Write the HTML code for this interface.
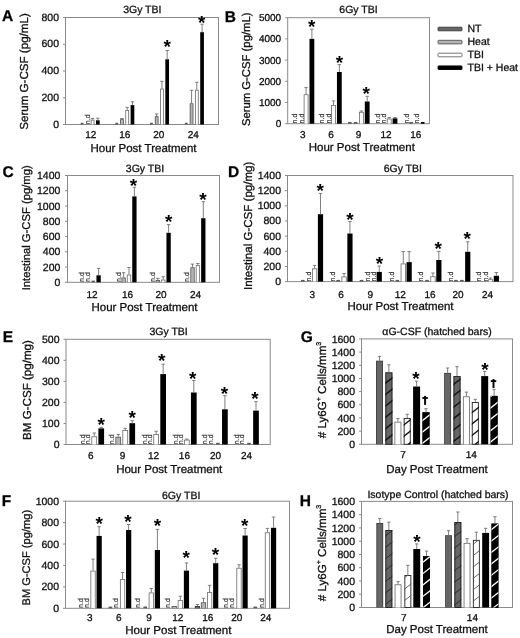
<!DOCTYPE html>
<html><head><meta charset="utf-8"><style>
html,body{margin:0;padding:0;background:#fff;}
body{width:520px;height:638px;overflow:hidden;}
svg{display:block;font-family:"Liberation Sans", sans-serif;}
svg{filter:grayscale(1) blur(0.3px);}
text{stroke:#111;stroke-width:0.3px;text-rendering:geometricPrecision;}
body{-webkit-font-smoothing:antialiased;}
</style></head><body>
<svg width="520" height="638" viewBox="0 0 520 638">
<rect width="520" height="638" fill="#fff"/>
<rect x="65.5" y="17.5" width="153.0" height="107.0" fill="none" stroke="#8a8a8a" stroke-width="1"/>
<line x1="63.00" y1="124.50" x2="65.50" y2="124.50" stroke="#8a8a8a" stroke-width="1"/>
<text x="59.00" y="124.50" font-size="10.5" text-anchor="end" dominant-baseline="central" font-weight="normal" fill="#111111">0</text>
<line x1="63.00" y1="97.75" x2="65.50" y2="97.75" stroke="#8a8a8a" stroke-width="1"/>
<text x="59.00" y="97.75" font-size="10.5" text-anchor="end" dominant-baseline="central" font-weight="normal" fill="#111111">200</text>
<line x1="63.00" y1="71.00" x2="65.50" y2="71.00" stroke="#8a8a8a" stroke-width="1"/>
<text x="59.00" y="71.00" font-size="10.5" text-anchor="end" dominant-baseline="central" font-weight="normal" fill="#111111">400</text>
<line x1="63.00" y1="44.25" x2="65.50" y2="44.25" stroke="#8a8a8a" stroke-width="1"/>
<text x="59.00" y="44.25" font-size="10.5" text-anchor="end" dominant-baseline="central" font-weight="normal" fill="#111111">600</text>
<line x1="63.00" y1="17.50" x2="65.50" y2="17.50" stroke="#8a8a8a" stroke-width="1"/>
<text x="59.00" y="17.50" font-size="10.5" text-anchor="end" dominant-baseline="central" font-weight="normal" fill="#111111">800</text>
<text x="90.80" y="135.30" font-size="10.0" text-anchor="middle" dominant-baseline="central" font-weight="normal" fill="#111111">12</text>
<text x="124.80" y="135.30" font-size="10.0" text-anchor="middle" dominant-baseline="central" font-weight="normal" fill="#111111">16</text>
<text x="158.80" y="135.30" font-size="10.0" text-anchor="middle" dominant-baseline="central" font-weight="normal" fill="#111111">20</text>
<text x="193.30" y="135.30" font-size="10.0" text-anchor="middle" dominant-baseline="central" font-weight="normal" fill="#111111">24</text>
<text x="143.50" y="148.80" font-size="11.5" text-anchor="middle" dominant-baseline="central" font-weight="normal" fill="#111111">Hour Post Treatment</text>
<text x="24.70" y="71.50" font-size="11.6" text-anchor="middle" dominant-baseline="central" font-weight="normal" fill="#111111" transform="rotate(-90 24.7 71.5)">Serum G-CSF (pg/mL)</text>
<text x="142.30" y="10.30" font-size="10.5" text-anchor="middle" dominant-baseline="central" font-weight="normal" fill="#111111">3Gy TBI</text>
<text x="1.91" y="20.60" font-size="15.5" font-weight="bold" fill="#000">A</text>
<rect x="80.69" y="122.80" width="2.78" height="1.70" fill="#5a5a5a"/>
<text x="90.46" y="124.30" font-size="7.2" text-anchor="start" fill="#333" style="stroke:#333;stroke-width:0.15px" transform="rotate(-90 90.46 124.30)">n.d</text>
<rect x="90.73" y="119.70" width="3.70" height="4.80" fill="#6a6a6a"/>
<rect x="91.53" y="120.50" width="2.10" height="4.00" fill="#ffffff"/>
<line x1="92.58" y1="119.70" x2="92.58" y2="118.50" stroke="#727272" stroke-width="0.9"/>
<line x1="90.88" y1="118.50" x2="94.28" y2="118.50" stroke="#727272" stroke-width="0.9"/>
<rect x="95.98" y="120.30" width="3.70" height="4.20" fill="#000000"/>
<line x1="97.83" y1="120.30" x2="97.83" y2="118.20" stroke="#727272" stroke-width="0.9"/>
<line x1="96.12" y1="118.20" x2="99.53" y2="118.20" stroke="#727272" stroke-width="0.9"/>
<rect x="115.34" y="122.80" width="2.78" height="1.70" fill="#5a5a5a"/>
<rect x="120.12" y="119.20" width="3.70" height="5.30" fill="#555555"/>
<rect x="120.92" y="120.00" width="2.10" height="4.50" fill="#b4b4b4"/>
<line x1="121.97" y1="119.20" x2="121.97" y2="118.50" stroke="#727272" stroke-width="0.9"/>
<line x1="120.27" y1="118.50" x2="123.67" y2="118.50" stroke="#727272" stroke-width="0.9"/>
<rect x="125.38" y="110.00" width="3.70" height="14.50" fill="#6a6a6a"/>
<rect x="126.17" y="110.80" width="2.10" height="13.70" fill="#ffffff"/>
<line x1="127.22" y1="110.00" x2="127.22" y2="107.40" stroke="#727272" stroke-width="0.9"/>
<line x1="125.52" y1="107.40" x2="128.92" y2="107.40" stroke="#727272" stroke-width="0.9"/>
<rect x="130.62" y="105.10" width="3.70" height="19.40" fill="#000000"/>
<line x1="132.47" y1="105.10" x2="132.47" y2="101.80" stroke="#727272" stroke-width="0.9"/>
<line x1="130.78" y1="101.80" x2="134.17" y2="101.80" stroke="#727272" stroke-width="0.9"/>
<rect x="150.04" y="122.80" width="2.78" height="1.70" fill="#5a5a5a"/>
<rect x="154.83" y="116.20" width="3.70" height="8.30" fill="#555555"/>
<rect x="155.63" y="117.00" width="2.10" height="7.50" fill="#b4b4b4"/>
<line x1="156.68" y1="116.20" x2="156.68" y2="114.00" stroke="#727272" stroke-width="0.9"/>
<line x1="154.98" y1="114.00" x2="158.38" y2="114.00" stroke="#727272" stroke-width="0.9"/>
<rect x="160.08" y="88.60" width="3.70" height="35.90" fill="#6a6a6a"/>
<rect x="160.88" y="89.40" width="2.10" height="35.10" fill="#ffffff"/>
<line x1="161.93" y1="88.60" x2="161.93" y2="81.30" stroke="#727272" stroke-width="0.9"/>
<line x1="160.23" y1="81.30" x2="163.62" y2="81.30" stroke="#727272" stroke-width="0.9"/>
<rect x="165.33" y="59.30" width="3.70" height="65.20" fill="#000000"/>
<line x1="167.18" y1="59.30" x2="167.18" y2="50.50" stroke="#727272" stroke-width="0.9"/>
<line x1="165.48" y1="50.50" x2="168.88" y2="50.50" stroke="#727272" stroke-width="0.9"/>
<rect x="184.94" y="122.80" width="2.78" height="1.70" fill="#5a5a5a"/>
<rect x="189.72" y="103.30" width="3.70" height="21.20" fill="#555555"/>
<rect x="190.53" y="104.10" width="2.10" height="20.40" fill="#b4b4b4"/>
<line x1="191.57" y1="103.30" x2="191.57" y2="90.30" stroke="#727272" stroke-width="0.9"/>
<line x1="189.88" y1="90.30" x2="193.27" y2="90.30" stroke="#727272" stroke-width="0.9"/>
<rect x="194.97" y="89.70" width="3.70" height="34.80" fill="#6a6a6a"/>
<rect x="195.78" y="90.50" width="2.10" height="34.00" fill="#ffffff"/>
<line x1="196.82" y1="89.70" x2="196.82" y2="82.30" stroke="#727272" stroke-width="0.9"/>
<line x1="195.12" y1="82.30" x2="198.52" y2="82.30" stroke="#727272" stroke-width="0.9"/>
<rect x="200.22" y="32.20" width="3.70" height="92.30" fill="#000000"/>
<line x1="202.07" y1="32.20" x2="202.07" y2="24.20" stroke="#727272" stroke-width="0.9"/>
<line x1="200.38" y1="24.20" x2="203.77" y2="24.20" stroke="#727272" stroke-width="0.9"/>
<text x="167.30" y="52.64" font-size="19.0" text-anchor="middle" font-weight="bold" fill="#000" style="stroke:none">*</text>
<text x="201.60" y="29.04" font-size="19.0" text-anchor="middle" font-weight="bold" fill="#000" style="stroke:none">*</text>
<rect x="287.7" y="17.7" width="141.8" height="106.0" fill="none" stroke="#8a8a8a" stroke-width="1"/>
<line x1="285.20" y1="123.70" x2="287.70" y2="123.70" stroke="#8a8a8a" stroke-width="1"/>
<text x="281.20" y="124.60" font-size="10" text-anchor="end" dominant-baseline="central" font-weight="normal" fill="#111111">0</text>
<line x1="285.20" y1="102.50" x2="287.70" y2="102.50" stroke="#8a8a8a" stroke-width="1"/>
<text x="281.20" y="103.40" font-size="10" text-anchor="end" dominant-baseline="central" font-weight="normal" fill="#111111">1000</text>
<line x1="285.20" y1="81.30" x2="287.70" y2="81.30" stroke="#8a8a8a" stroke-width="1"/>
<text x="281.20" y="82.20" font-size="10" text-anchor="end" dominant-baseline="central" font-weight="normal" fill="#111111">2000</text>
<line x1="285.20" y1="60.10" x2="287.70" y2="60.10" stroke="#8a8a8a" stroke-width="1"/>
<text x="281.20" y="61.00" font-size="10" text-anchor="end" dominant-baseline="central" font-weight="normal" fill="#111111">3000</text>
<line x1="285.20" y1="38.90" x2="287.70" y2="38.90" stroke="#8a8a8a" stroke-width="1"/>
<text x="281.20" y="39.80" font-size="10" text-anchor="end" dominant-baseline="central" font-weight="normal" fill="#111111">4000</text>
<line x1="285.20" y1="17.70" x2="287.70" y2="17.70" stroke="#8a8a8a" stroke-width="1"/>
<text x="281.20" y="18.60" font-size="10" text-anchor="end" dominant-baseline="central" font-weight="normal" fill="#111111">5000</text>
<text x="302.90" y="135.40" font-size="10.0" text-anchor="middle" dominant-baseline="central" font-weight="normal" fill="#111111">3</text>
<text x="331.10" y="135.40" font-size="10.0" text-anchor="middle" dominant-baseline="central" font-weight="normal" fill="#111111">6</text>
<text x="358.50" y="135.40" font-size="10.0" text-anchor="middle" dominant-baseline="central" font-weight="normal" fill="#111111">9</text>
<text x="386.00" y="135.40" font-size="10.0" text-anchor="middle" dominant-baseline="central" font-weight="normal" fill="#111111">12</text>
<text x="415.70" y="135.40" font-size="10.0" text-anchor="middle" dominant-baseline="central" font-weight="normal" fill="#111111">16</text>
<text x="361.80" y="148.30" font-size="11.5" text-anchor="middle" dominant-baseline="central" font-weight="normal" fill="#111111">Hour Post Treatment</text>
<text x="247.50" y="69.30" font-size="11.3" text-anchor="middle" dominant-baseline="central" font-weight="normal" fill="#111111" transform="rotate(-90 247.5 69.3)">Serum G-CSF (pg/mL)</text>
<text x="358.50" y="10.30" font-size="10.5" text-anchor="middle" dominant-baseline="central" font-weight="normal" fill="#111111">6Gy TBI</text>
<text x="224.76" y="21.60" font-size="15.5" font-weight="bold" fill="#000">B</text>
<text x="297.26" y="123.50" font-size="7.2" text-anchor="start" fill="#333" style="stroke:#333;stroke-width:0.15px" transform="rotate(-90 297.26 123.50)">n.d</text>
<text x="303.76" y="123.50" font-size="7.2" text-anchor="start" fill="#333" style="stroke:#333;stroke-width:0.15px" transform="rotate(-90 303.76 123.50)">n.d</text>
<rect x="303.70" y="94.30" width="4.80" height="29.40" fill="#6a6a6a"/>
<rect x="304.50" y="95.10" width="3.20" height="28.60" fill="#ffffff"/>
<line x1="306.10" y1="94.30" x2="306.10" y2="87.60" stroke="#727272" stroke-width="0.9"/>
<line x1="304.40" y1="87.60" x2="307.80" y2="87.60" stroke="#727272" stroke-width="0.9"/>
<rect x="309.50" y="38.90" width="4.80" height="84.80" fill="#000000"/>
<line x1="311.90" y1="38.90" x2="311.90" y2="29.20" stroke="#727272" stroke-width="0.9"/>
<line x1="310.20" y1="29.20" x2="313.60" y2="29.20" stroke="#727272" stroke-width="0.9"/>
<text x="324.16" y="123.50" font-size="7.2" text-anchor="start" fill="#333" style="stroke:#333;stroke-width:0.15px" transform="rotate(-90 324.16 123.50)">n.d</text>
<text x="330.76" y="123.50" font-size="7.2" text-anchor="start" fill="#333" style="stroke:#333;stroke-width:0.15px" transform="rotate(-90 330.76 123.50)">n.d</text>
<rect x="331.15" y="105.00" width="4.80" height="18.70" fill="#6a6a6a"/>
<rect x="331.95" y="105.80" width="3.20" height="17.90" fill="#ffffff"/>
<line x1="333.55" y1="105.00" x2="333.55" y2="100.90" stroke="#727272" stroke-width="0.9"/>
<line x1="331.85" y1="100.90" x2="335.25" y2="100.90" stroke="#727272" stroke-width="0.9"/>
<rect x="336.95" y="72.00" width="4.80" height="51.70" fill="#000000"/>
<line x1="339.35" y1="72.00" x2="339.35" y2="64.60" stroke="#727272" stroke-width="0.9"/>
<line x1="337.65" y1="64.60" x2="341.05" y2="64.60" stroke="#727272" stroke-width="0.9"/>
<rect x="348.00" y="122.00" width="3.60" height="1.70" fill="#5a5a5a"/>
<rect x="353.80" y="122.00" width="3.60" height="1.70" fill="#5a5a5a"/>
<rect x="359.00" y="111.90" width="4.80" height="11.80" fill="#6a6a6a"/>
<rect x="359.80" y="112.70" width="3.20" height="11.00" fill="#ffffff"/>
<line x1="361.40" y1="111.90" x2="361.40" y2="111.00" stroke="#727272" stroke-width="0.9"/>
<line x1="359.70" y1="111.00" x2="363.10" y2="111.00" stroke="#727272" stroke-width="0.9"/>
<rect x="364.80" y="101.50" width="4.80" height="22.20" fill="#000000"/>
<line x1="367.20" y1="101.50" x2="367.20" y2="96.30" stroke="#727272" stroke-width="0.9"/>
<line x1="365.50" y1="96.30" x2="368.90" y2="96.30" stroke="#727272" stroke-width="0.9"/>
<text x="380.16" y="123.50" font-size="7.2" text-anchor="start" fill="#333" style="stroke:#333;stroke-width:0.15px" transform="rotate(-90 380.16 123.50)">n.d</text>
<text x="386.46" y="123.50" font-size="7.2" text-anchor="start" fill="#333" style="stroke:#333;stroke-width:0.15px" transform="rotate(-90 386.46 123.50)">n.d</text>
<rect x="386.80" y="118.60" width="4.80" height="5.10" fill="#6a6a6a"/>
<rect x="387.60" y="119.40" width="3.20" height="4.30" fill="#ffffff"/>
<line x1="389.20" y1="118.60" x2="389.20" y2="117.60" stroke="#727272" stroke-width="0.9"/>
<line x1="387.50" y1="117.60" x2="390.90" y2="117.60" stroke="#727272" stroke-width="0.9"/>
<rect x="392.60" y="118.30" width="4.80" height="5.40" fill="#000000"/>
<line x1="395.00" y1="118.30" x2="395.00" y2="117.60" stroke="#727272" stroke-width="0.9"/>
<line x1="393.30" y1="117.60" x2="396.70" y2="117.60" stroke="#727272" stroke-width="0.9"/>
<text x="408.66" y="123.50" font-size="7.2" text-anchor="start" fill="#333" style="stroke:#333;stroke-width:0.15px" transform="rotate(-90 408.66 123.50)">n.d</text>
<rect x="409.30" y="122.00" width="3.60" height="1.70" fill="#5a5a5a"/>
<text x="418.76" y="123.50" font-size="7.2" text-anchor="start" fill="#333" style="stroke:#333;stroke-width:0.15px" transform="rotate(-90 418.76 123.50)">n.d</text>
<rect x="420.90" y="122.00" width="3.60" height="1.70" fill="#000"/>
<text x="311.80" y="33.04" font-size="19.0" text-anchor="middle" font-weight="bold" fill="#000" style="stroke:none">*</text>
<text x="339.50" y="68.94" font-size="19.0" text-anchor="middle" font-weight="bold" fill="#000" style="stroke:none">*</text>
<text x="366.10" y="99.84" font-size="19.0" text-anchor="middle" font-weight="bold" fill="#000" style="stroke:none">*</text>
<rect x="67.5" y="175.5" width="152.0" height="106.80000000000001" fill="none" stroke="#8a8a8a" stroke-width="1"/>
<line x1="65.00" y1="282.30" x2="67.50" y2="282.30" stroke="#8a8a8a" stroke-width="1"/>
<text x="60.40" y="282.90" font-size="10.5" text-anchor="end" dominant-baseline="central" font-weight="normal" fill="#111111">0</text>
<line x1="65.00" y1="267.04" x2="67.50" y2="267.04" stroke="#8a8a8a" stroke-width="1"/>
<text x="60.40" y="267.64" font-size="10.5" text-anchor="end" dominant-baseline="central" font-weight="normal" fill="#111111">200</text>
<line x1="65.00" y1="251.79" x2="67.50" y2="251.79" stroke="#8a8a8a" stroke-width="1"/>
<text x="60.40" y="252.39" font-size="10.5" text-anchor="end" dominant-baseline="central" font-weight="normal" fill="#111111">400</text>
<line x1="65.00" y1="236.53" x2="67.50" y2="236.53" stroke="#8a8a8a" stroke-width="1"/>
<text x="60.40" y="237.13" font-size="10.5" text-anchor="end" dominant-baseline="central" font-weight="normal" fill="#111111">600</text>
<line x1="65.00" y1="221.27" x2="67.50" y2="221.27" stroke="#8a8a8a" stroke-width="1"/>
<text x="60.40" y="221.87" font-size="10.5" text-anchor="end" dominant-baseline="central" font-weight="normal" fill="#111111">800</text>
<line x1="65.00" y1="206.01" x2="67.50" y2="206.01" stroke="#8a8a8a" stroke-width="1"/>
<text x="60.40" y="206.61" font-size="10.5" text-anchor="end" dominant-baseline="central" font-weight="normal" fill="#111111">1000</text>
<line x1="65.00" y1="190.76" x2="67.50" y2="190.76" stroke="#8a8a8a" stroke-width="1"/>
<text x="60.40" y="191.36" font-size="10.5" text-anchor="end" dominant-baseline="central" font-weight="normal" fill="#111111">1200</text>
<line x1="65.00" y1="175.50" x2="67.50" y2="175.50" stroke="#8a8a8a" stroke-width="1"/>
<text x="60.40" y="176.10" font-size="10.5" text-anchor="end" dominant-baseline="central" font-weight="normal" fill="#111111">1400</text>
<text x="92.00" y="295.00" font-size="10.0" text-anchor="middle" dominant-baseline="central" font-weight="normal" fill="#111111">12</text>
<text x="127.50" y="295.00" font-size="10.0" text-anchor="middle" dominant-baseline="central" font-weight="normal" fill="#111111">16</text>
<text x="161.00" y="295.00" font-size="10.0" text-anchor="middle" dominant-baseline="central" font-weight="normal" fill="#111111">20</text>
<text x="195.50" y="295.00" font-size="10.0" text-anchor="middle" dominant-baseline="central" font-weight="normal" fill="#111111">24</text>
<text x="144.50" y="307.50" font-size="11.5" text-anchor="middle" dominant-baseline="central" font-weight="normal" fill="#111111">Hour Post Treatment</text>
<text x="27.20" y="227.80" font-size="11.25" text-anchor="middle" dominant-baseline="central" font-weight="normal" fill="#111111" transform="rotate(-90 27.2 227.8)">Intestinal G-CSF (pg/mg)</text>
<text x="145.00" y="168.50" font-size="10.5" text-anchor="middle" dominant-baseline="central" font-weight="normal" fill="#111111">3Gy TBI</text>
<text x="2.46" y="176.80" font-size="15.5" font-weight="bold" fill="#000">C</text>
<text x="84.16" y="282.10" font-size="7.2" text-anchor="start" fill="#333" style="stroke:#333;stroke-width:0.15px" transform="rotate(-90 84.16 282.10)">n.d</text>
<text x="90.26" y="282.10" font-size="7.2" text-anchor="start" fill="#333" style="stroke:#333;stroke-width:0.15px" transform="rotate(-90 90.26 282.10)">n.d</text>
<rect x="91.59" y="280.60" width="3.22" height="1.70" fill="#5a5a5a"/>
<rect x="96.45" y="275.30" width="4.30" height="7.00" fill="#000000"/>
<line x1="98.60" y1="275.30" x2="98.60" y2="268.40" stroke="#727272" stroke-width="0.9"/>
<line x1="96.90" y1="268.40" x2="100.30" y2="268.40" stroke="#727272" stroke-width="0.9"/>
<text x="120.56" y="282.10" font-size="7.2" text-anchor="start" fill="#333" style="stroke:#333;stroke-width:0.15px" transform="rotate(-90 120.56 282.10)">n.d</text>
<rect x="121.45" y="277.50" width="4.30" height="4.80" fill="#555555"/>
<rect x="122.25" y="278.30" width="2.70" height="4.00" fill="#b4b4b4"/>
<line x1="123.60" y1="277.50" x2="123.60" y2="272.70" stroke="#727272" stroke-width="0.9"/>
<line x1="121.90" y1="272.70" x2="125.30" y2="272.70" stroke="#727272" stroke-width="0.9"/>
<rect x="126.85" y="274.60" width="4.30" height="7.70" fill="#6a6a6a"/>
<rect x="127.65" y="275.40" width="2.70" height="6.90" fill="#ffffff"/>
<line x1="129.00" y1="274.60" x2="129.00" y2="267.50" stroke="#727272" stroke-width="0.9"/>
<line x1="127.30" y1="267.50" x2="130.70" y2="267.50" stroke="#727272" stroke-width="0.9"/>
<rect x="132.25" y="196.40" width="4.30" height="85.90" fill="#000000"/>
<line x1="134.40" y1="196.40" x2="134.40" y2="187.30" stroke="#727272" stroke-width="0.9"/>
<line x1="132.70" y1="187.30" x2="136.10" y2="187.30" stroke="#727272" stroke-width="0.9"/>
<text x="155.46" y="282.10" font-size="7.2" text-anchor="start" fill="#333" style="stroke:#333;stroke-width:0.15px" transform="rotate(-90 155.46 282.10)">n.d</text>
<rect x="155.65" y="280.00" width="4.30" height="2.30" fill="#555555"/>
<rect x="156.45" y="280.80" width="2.70" height="1.50" fill="#b4b4b4"/>
<line x1="157.80" y1="280.00" x2="157.80" y2="278.30" stroke="#727272" stroke-width="0.9"/>
<line x1="156.10" y1="278.30" x2="159.50" y2="278.30" stroke="#727272" stroke-width="0.9"/>
<rect x="161.05" y="279.60" width="4.30" height="2.70" fill="#6a6a6a"/>
<rect x="161.85" y="280.40" width="2.70" height="1.90" fill="#ffffff"/>
<line x1="163.20" y1="279.60" x2="163.20" y2="276.80" stroke="#727272" stroke-width="0.9"/>
<line x1="161.50" y1="276.80" x2="164.90" y2="276.80" stroke="#727272" stroke-width="0.9"/>
<rect x="166.45" y="232.80" width="4.30" height="49.50" fill="#000000"/>
<line x1="168.60" y1="232.80" x2="168.60" y2="224.60" stroke="#727272" stroke-width="0.9"/>
<line x1="166.90" y1="224.60" x2="170.30" y2="224.60" stroke="#727272" stroke-width="0.9"/>
<text x="188.86" y="282.10" font-size="7.2" text-anchor="start" fill="#333" style="stroke:#333;stroke-width:0.15px" transform="rotate(-90 188.86 282.10)">n.d</text>
<rect x="190.35" y="267.30" width="4.30" height="15.00" fill="#555555"/>
<rect x="191.15" y="268.10" width="2.70" height="14.20" fill="#b4b4b4"/>
<line x1="192.50" y1="267.30" x2="192.50" y2="264.10" stroke="#727272" stroke-width="0.9"/>
<line x1="190.80" y1="264.10" x2="194.20" y2="264.10" stroke="#727272" stroke-width="0.9"/>
<rect x="195.75" y="265.20" width="4.30" height="17.10" fill="#6a6a6a"/>
<rect x="196.55" y="266.00" width="2.70" height="16.30" fill="#ffffff"/>
<line x1="197.90" y1="265.20" x2="197.90" y2="263.50" stroke="#727272" stroke-width="0.9"/>
<line x1="196.20" y1="263.50" x2="199.60" y2="263.50" stroke="#727272" stroke-width="0.9"/>
<rect x="201.15" y="218.20" width="4.30" height="64.10" fill="#000000"/>
<line x1="203.30" y1="218.20" x2="203.30" y2="201.70" stroke="#727272" stroke-width="0.9"/>
<line x1="201.60" y1="201.70" x2="205.00" y2="201.70" stroke="#727272" stroke-width="0.9"/>
<text x="133.50" y="191.74" font-size="19.0" text-anchor="middle" font-weight="bold" fill="#000" style="stroke:none">*</text>
<text x="168.60" y="228.04" font-size="19.0" text-anchor="middle" font-weight="bold" fill="#000" style="stroke:none">*</text>
<text x="202.90" y="205.94" font-size="19.0" text-anchor="middle" font-weight="bold" fill="#000" style="stroke:none">*</text>
<rect x="287.5" y="175.5" width="225.5" height="106.10000000000002" fill="none" stroke="#8a8a8a" stroke-width="1"/>
<line x1="285.00" y1="281.60" x2="287.50" y2="281.60" stroke="#8a8a8a" stroke-width="1"/>
<text x="281.00" y="282.10" font-size="10.5" text-anchor="end" dominant-baseline="central" font-weight="normal" fill="#111111">0</text>
<line x1="285.00" y1="266.44" x2="287.50" y2="266.44" stroke="#8a8a8a" stroke-width="1"/>
<text x="281.00" y="266.94" font-size="10.5" text-anchor="end" dominant-baseline="central" font-weight="normal" fill="#111111">200</text>
<line x1="285.00" y1="251.29" x2="287.50" y2="251.29" stroke="#8a8a8a" stroke-width="1"/>
<text x="281.00" y="251.79" font-size="10.5" text-anchor="end" dominant-baseline="central" font-weight="normal" fill="#111111">400</text>
<line x1="285.00" y1="236.13" x2="287.50" y2="236.13" stroke="#8a8a8a" stroke-width="1"/>
<text x="281.00" y="236.63" font-size="10.5" text-anchor="end" dominant-baseline="central" font-weight="normal" fill="#111111">600</text>
<line x1="285.00" y1="220.97" x2="287.50" y2="220.97" stroke="#8a8a8a" stroke-width="1"/>
<text x="281.00" y="221.47" font-size="10.5" text-anchor="end" dominant-baseline="central" font-weight="normal" fill="#111111">800</text>
<line x1="285.00" y1="205.81" x2="287.50" y2="205.81" stroke="#8a8a8a" stroke-width="1"/>
<text x="281.00" y="206.31" font-size="10.5" text-anchor="end" dominant-baseline="central" font-weight="normal" fill="#111111">1000</text>
<line x1="285.00" y1="190.66" x2="287.50" y2="190.66" stroke="#8a8a8a" stroke-width="1"/>
<text x="281.00" y="191.16" font-size="10.5" text-anchor="end" dominant-baseline="central" font-weight="normal" fill="#111111">1200</text>
<line x1="285.00" y1="175.50" x2="287.50" y2="175.50" stroke="#8a8a8a" stroke-width="1"/>
<text x="281.00" y="176.00" font-size="10.5" text-anchor="end" dominant-baseline="central" font-weight="normal" fill="#111111">1400</text>
<text x="312.20" y="295.10" font-size="10.0" text-anchor="middle" dominant-baseline="central" font-weight="normal" fill="#111111">3</text>
<text x="341.10" y="295.10" font-size="10.0" text-anchor="middle" dominant-baseline="central" font-weight="normal" fill="#111111">6</text>
<text x="370.40" y="295.10" font-size="10.0" text-anchor="middle" dominant-baseline="central" font-weight="normal" fill="#111111">9</text>
<text x="400.20" y="295.10" font-size="10.0" text-anchor="middle" dominant-baseline="central" font-weight="normal" fill="#111111">12</text>
<text x="430.00" y="295.10" font-size="10.0" text-anchor="middle" dominant-baseline="central" font-weight="normal" fill="#111111">16</text>
<text x="458.00" y="295.10" font-size="10.0" text-anchor="middle" dominant-baseline="central" font-weight="normal" fill="#111111">20</text>
<text x="487.50" y="295.10" font-size="10.0" text-anchor="middle" dominant-baseline="central" font-weight="normal" fill="#111111">24</text>
<text x="400.50" y="307.00" font-size="11.5" text-anchor="middle" dominant-baseline="central" font-weight="normal" fill="#111111">Hour Post Treatment</text>
<text x="249.00" y="225.80" font-size="11.55" text-anchor="middle" dominant-baseline="central" font-weight="normal" fill="#111111" transform="rotate(-90 249.0 225.8)">Intestinal G-CSF (pg/mg)</text>
<text x="402.80" y="168.50" font-size="10.5" text-anchor="middle" dominant-baseline="central" font-weight="normal" fill="#111111">6Gy TBI</text>
<text x="228.06" y="176.60" font-size="15.5" font-weight="bold" fill="#000">D</text>
<rect x="301.00" y="279.90" width="3.60" height="1.70" fill="#5a5a5a"/>
<text x="311.46" y="281.40" font-size="7.2" text-anchor="start" fill="#333" style="stroke:#333;stroke-width:0.15px" transform="rotate(-90 311.46 281.40)">n.d</text>
<rect x="312.00" y="268.40" width="5.20" height="13.20" fill="#6a6a6a"/>
<rect x="312.80" y="269.20" width="3.60" height="12.40" fill="#ffffff"/>
<line x1="314.60" y1="268.40" x2="314.60" y2="265.40" stroke="#727272" stroke-width="0.9"/>
<line x1="312.90" y1="265.40" x2="316.30" y2="265.40" stroke="#727272" stroke-width="0.9"/>
<rect x="317.90" y="214.20" width="5.20" height="67.40" fill="#000000"/>
<line x1="320.50" y1="214.20" x2="320.50" y2="193.40" stroke="#727272" stroke-width="0.9"/>
<line x1="318.80" y1="193.40" x2="322.20" y2="193.40" stroke="#727272" stroke-width="0.9"/>
<text x="334.96" y="281.40" font-size="7.2" text-anchor="start" fill="#333" style="stroke:#333;stroke-width:0.15px" transform="rotate(-90 334.96 281.40)">n.d</text>
<rect x="336.35" y="279.90" width="3.60" height="1.70" fill="#5a5a5a"/>
<rect x="341.45" y="276.50" width="5.20" height="5.10" fill="#6a6a6a"/>
<rect x="342.25" y="277.30" width="3.60" height="4.30" fill="#ffffff"/>
<line x1="344.05" y1="276.50" x2="344.05" y2="273.50" stroke="#727272" stroke-width="0.9"/>
<line x1="342.35" y1="273.50" x2="345.75" y2="273.50" stroke="#727272" stroke-width="0.9"/>
<rect x="347.35" y="233.50" width="5.20" height="48.10" fill="#000000"/>
<line x1="349.95" y1="233.50" x2="349.95" y2="221.50" stroke="#727272" stroke-width="0.9"/>
<line x1="348.25" y1="221.50" x2="351.65" y2="221.50" stroke="#727272" stroke-width="0.9"/>
<rect x="359.75" y="279.90" width="3.60" height="1.70" fill="#5a5a5a"/>
<text x="369.56" y="281.40" font-size="7.2" text-anchor="start" fill="#333" style="stroke:#333;stroke-width:0.15px" transform="rotate(-90 369.56 281.40)">n.d</text>
<text x="376.06" y="281.40" font-size="7.2" text-anchor="start" fill="#333" style="stroke:#333;stroke-width:0.15px" transform="rotate(-90 376.06 281.40)">n.d</text>
<rect x="376.65" y="271.90" width="5.20" height="9.70" fill="#000000"/>
<line x1="379.25" y1="271.90" x2="379.25" y2="266.10" stroke="#727272" stroke-width="0.9"/>
<line x1="377.55" y1="266.10" x2="380.95" y2="266.10" stroke="#727272" stroke-width="0.9"/>
<text x="394.46" y="281.40" font-size="7.2" text-anchor="start" fill="#333" style="stroke:#333;stroke-width:0.15px" transform="rotate(-90 394.46 281.40)">n.d</text>
<rect x="395.55" y="279.90" width="3.60" height="1.70" fill="#5a5a5a"/>
<rect x="400.65" y="263.50" width="5.20" height="18.10" fill="#6a6a6a"/>
<rect x="401.45" y="264.30" width="3.60" height="17.30" fill="#ffffff"/>
<line x1="403.25" y1="263.50" x2="403.25" y2="251.60" stroke="#727272" stroke-width="0.9"/>
<line x1="401.55" y1="251.60" x2="404.95" y2="251.60" stroke="#727272" stroke-width="0.9"/>
<rect x="406.55" y="262.10" width="5.20" height="19.50" fill="#000000"/>
<line x1="409.15" y1="262.10" x2="409.15" y2="251.60" stroke="#727272" stroke-width="0.9"/>
<line x1="407.45" y1="251.60" x2="410.85" y2="251.60" stroke="#727272" stroke-width="0.9"/>
<text x="422.66" y="281.40" font-size="7.2" text-anchor="start" fill="#333" style="stroke:#333;stroke-width:0.15px" transform="rotate(-90 422.66 281.40)">n.d</text>
<rect x="425.25" y="279.90" width="3.60" height="1.70" fill="#5a5a5a"/>
<rect x="430.35" y="276.30" width="5.20" height="5.30" fill="#6a6a6a"/>
<rect x="431.15" y="277.10" width="3.60" height="4.50" fill="#ffffff"/>
<line x1="432.95" y1="276.30" x2="432.95" y2="273.00" stroke="#727272" stroke-width="0.9"/>
<line x1="431.25" y1="273.00" x2="434.65" y2="273.00" stroke="#727272" stroke-width="0.9"/>
<rect x="436.25" y="260.00" width="5.20" height="21.60" fill="#000000"/>
<line x1="438.85" y1="260.00" x2="438.85" y2="251.30" stroke="#727272" stroke-width="0.9"/>
<line x1="437.15" y1="251.30" x2="440.55" y2="251.30" stroke="#727272" stroke-width="0.9"/>
<text x="452.66" y="281.40" font-size="7.2" text-anchor="start" fill="#333" style="stroke:#333;stroke-width:0.15px" transform="rotate(-90 452.66 281.40)">n.d</text>
<rect x="454.15" y="279.90" width="3.60" height="1.70" fill="#5a5a5a"/>
<rect x="460.05" y="279.90" width="3.60" height="1.70" fill="#5a5a5a"/>
<rect x="465.15" y="251.80" width="5.20" height="29.80" fill="#000000"/>
<line x1="467.75" y1="251.80" x2="467.75" y2="241.80" stroke="#727272" stroke-width="0.9"/>
<line x1="466.05" y1="241.80" x2="469.45" y2="241.80" stroke="#727272" stroke-width="0.9"/>
<text x="481.46" y="281.40" font-size="7.2" text-anchor="start" fill="#333" style="stroke:#333;stroke-width:0.15px" transform="rotate(-90 481.46 281.40)">n.d</text>
<text x="487.66" y="281.40" font-size="7.2" text-anchor="start" fill="#333" style="stroke:#333;stroke-width:0.15px" transform="rotate(-90 487.66 281.40)">n.d</text>
<rect x="487.85" y="279.30" width="5.20" height="2.30" fill="#6a6a6a"/>
<rect x="488.65" y="280.10" width="3.60" height="1.50" fill="#ffffff"/>
<line x1="490.45" y1="279.30" x2="490.45" y2="278.00" stroke="#727272" stroke-width="0.9"/>
<line x1="488.75" y1="278.00" x2="492.15" y2="278.00" stroke="#727272" stroke-width="0.9"/>
<rect x="493.75" y="275.80" width="5.20" height="5.80" fill="#000000"/>
<line x1="496.35" y1="275.80" x2="496.35" y2="272.50" stroke="#727272" stroke-width="0.9"/>
<line x1="494.65" y1="272.50" x2="498.05" y2="272.50" stroke="#727272" stroke-width="0.9"/>
<text x="320.30" y="197.14" font-size="19.0" text-anchor="middle" font-weight="bold" fill="#000" style="stroke:none">*</text>
<text x="350.00" y="225.64" font-size="19.0" text-anchor="middle" font-weight="bold" fill="#000" style="stroke:none">*</text>
<text x="379.40" y="270.04" font-size="19.0" text-anchor="middle" font-weight="bold" fill="#000" style="stroke:none">*</text>
<text x="438.10" y="254.54" font-size="19.0" text-anchor="middle" font-weight="bold" fill="#000" style="stroke:none">*</text>
<text x="467.30" y="244.84" font-size="19.0" text-anchor="middle" font-weight="bold" fill="#000" style="stroke:none">*</text>
<rect x="66.0" y="339.3" width="204.2" height="105.19999999999999" fill="none" stroke="#8a8a8a" stroke-width="1"/>
<line x1="63.50" y1="444.50" x2="66.00" y2="444.50" stroke="#8a8a8a" stroke-width="1"/>
<text x="59.50" y="445.00" font-size="10.5" text-anchor="end" dominant-baseline="central" font-weight="normal" fill="#111111">0</text>
<line x1="63.50" y1="423.46" x2="66.00" y2="423.46" stroke="#8a8a8a" stroke-width="1"/>
<text x="59.50" y="423.96" font-size="10.5" text-anchor="end" dominant-baseline="central" font-weight="normal" fill="#111111">100</text>
<line x1="63.50" y1="402.42" x2="66.00" y2="402.42" stroke="#8a8a8a" stroke-width="1"/>
<text x="59.50" y="402.92" font-size="10.5" text-anchor="end" dominant-baseline="central" font-weight="normal" fill="#111111">200</text>
<line x1="63.50" y1="381.38" x2="66.00" y2="381.38" stroke="#8a8a8a" stroke-width="1"/>
<text x="59.50" y="381.88" font-size="10.5" text-anchor="end" dominant-baseline="central" font-weight="normal" fill="#111111">300</text>
<line x1="63.50" y1="360.34" x2="66.00" y2="360.34" stroke="#8a8a8a" stroke-width="1"/>
<text x="59.50" y="360.84" font-size="10.5" text-anchor="end" dominant-baseline="central" font-weight="normal" fill="#111111">400</text>
<line x1="63.50" y1="339.30" x2="66.00" y2="339.30" stroke="#8a8a8a" stroke-width="1"/>
<text x="59.50" y="339.80" font-size="10.5" text-anchor="end" dominant-baseline="central" font-weight="normal" fill="#111111">500</text>
<text x="90.80" y="456.20" font-size="10.0" text-anchor="middle" dominant-baseline="central" font-weight="normal" fill="#111111">6</text>
<text x="122.50" y="456.20" font-size="10.0" text-anchor="middle" dominant-baseline="central" font-weight="normal" fill="#111111">9</text>
<text x="153.60" y="456.20" font-size="10.0" text-anchor="middle" dominant-baseline="central" font-weight="normal" fill="#111111">12</text>
<text x="184.40" y="456.20" font-size="10.0" text-anchor="middle" dominant-baseline="central" font-weight="normal" fill="#111111">16</text>
<text x="215.50" y="456.20" font-size="10.0" text-anchor="middle" dominant-baseline="central" font-weight="normal" fill="#111111">20</text>
<text x="246.50" y="456.20" font-size="10.0" text-anchor="middle" dominant-baseline="central" font-weight="normal" fill="#111111">24</text>
<text x="169.20" y="470.00" font-size="11.5" text-anchor="middle" dominant-baseline="central" font-weight="normal" fill="#111111">Hour Post Treatment</text>
<text x="27.00" y="390.00" font-size="11.6" text-anchor="middle" dominant-baseline="central" font-weight="normal" fill="#111111" transform="rotate(-90 27.0 390)">BM G-CSF (pg/mg)</text>
<text x="168.60" y="332.00" font-size="10.5" text-anchor="middle" dominant-baseline="central" font-weight="normal" fill="#111111">3Gy TBI</text>
<text x="2.66" y="342.00" font-size="15.5" font-weight="bold" fill="#000">E</text>
<text x="85.46" y="444.30" font-size="7.2" text-anchor="start" fill="#333" style="stroke:#333;stroke-width:0.15px" transform="rotate(-90 85.46 444.30)">n.d</text>
<text x="90.16" y="444.30" font-size="7.2" text-anchor="start" fill="#333" style="stroke:#333;stroke-width:0.15px" transform="rotate(-90 90.16 444.30)">n.d</text>
<rect x="91.40" y="436.40" width="5.70" height="8.10" fill="#6a6a6a"/>
<rect x="92.20" y="437.20" width="4.10" height="7.30" fill="#ffffff"/>
<line x1="94.25" y1="436.40" x2="94.25" y2="433.00" stroke="#727272" stroke-width="0.9"/>
<line x1="92.55" y1="433.00" x2="95.95" y2="433.00" stroke="#727272" stroke-width="0.9"/>
<rect x="98.40" y="428.40" width="5.70" height="16.10" fill="#000000"/>
<line x1="101.25" y1="428.40" x2="101.25" y2="427.30" stroke="#727272" stroke-width="0.9"/>
<line x1="99.55" y1="427.30" x2="102.95" y2="427.30" stroke="#727272" stroke-width="0.9"/>
<text x="114.16" y="444.30" font-size="7.2" text-anchor="start" fill="#333" style="stroke:#333;stroke-width:0.15px" transform="rotate(-90 114.16 444.30)">n.d</text>
<rect x="115.40" y="436.80" width="5.70" height="7.70" fill="#555555"/>
<rect x="116.20" y="437.60" width="4.10" height="6.90" fill="#b4b4b4"/>
<line x1="118.25" y1="436.80" x2="118.25" y2="434.50" stroke="#727272" stroke-width="0.9"/>
<line x1="116.55" y1="434.50" x2="119.95" y2="434.50" stroke="#727272" stroke-width="0.9"/>
<rect x="122.40" y="430.00" width="5.70" height="14.50" fill="#6a6a6a"/>
<rect x="123.20" y="430.80" width="4.10" height="13.70" fill="#ffffff"/>
<line x1="125.25" y1="430.00" x2="125.25" y2="428.40" stroke="#727272" stroke-width="0.9"/>
<line x1="123.55" y1="428.40" x2="126.95" y2="428.40" stroke="#727272" stroke-width="0.9"/>
<rect x="129.40" y="423.20" width="5.70" height="21.30" fill="#000000"/>
<line x1="132.25" y1="423.20" x2="132.25" y2="420.70" stroke="#727272" stroke-width="0.9"/>
<line x1="130.55" y1="420.70" x2="133.95" y2="420.70" stroke="#727272" stroke-width="0.9"/>
<text x="146.76" y="444.30" font-size="7.2" text-anchor="start" fill="#333" style="stroke:#333;stroke-width:0.15px" transform="rotate(-90 146.76 444.30)">n.d</text>
<text x="152.46" y="444.30" font-size="7.2" text-anchor="start" fill="#333" style="stroke:#333;stroke-width:0.15px" transform="rotate(-90 152.46 444.30)">n.d</text>
<rect x="153.30" y="434.10" width="5.70" height="10.40" fill="#6a6a6a"/>
<rect x="154.10" y="434.90" width="4.10" height="9.60" fill="#ffffff"/>
<line x1="156.15" y1="434.10" x2="156.15" y2="431.30" stroke="#727272" stroke-width="0.9"/>
<line x1="154.45" y1="431.30" x2="157.85" y2="431.30" stroke="#727272" stroke-width="0.9"/>
<rect x="160.30" y="374.10" width="5.70" height="70.40" fill="#000000"/>
<line x1="163.15" y1="374.10" x2="163.15" y2="364.20" stroke="#727272" stroke-width="0.9"/>
<line x1="161.45" y1="364.20" x2="164.85" y2="364.20" stroke="#727272" stroke-width="0.9"/>
<text x="178.06" y="444.30" font-size="7.2" text-anchor="start" fill="#333" style="stroke:#333;stroke-width:0.15px" transform="rotate(-90 178.06 444.30)">n.d</text>
<text x="183.46" y="444.30" font-size="7.2" text-anchor="start" fill="#333" style="stroke:#333;stroke-width:0.15px" transform="rotate(-90 183.46 444.30)">n.d</text>
<rect x="183.95" y="439.70" width="5.70" height="4.80" fill="#6a6a6a"/>
<rect x="184.75" y="440.50" width="4.10" height="4.00" fill="#ffffff"/>
<line x1="186.80" y1="439.70" x2="186.80" y2="439.00" stroke="#727272" stroke-width="0.9"/>
<line x1="185.10" y1="439.00" x2="188.50" y2="439.00" stroke="#727272" stroke-width="0.9"/>
<rect x="190.95" y="392.50" width="5.70" height="52.00" fill="#000000"/>
<line x1="193.80" y1="392.50" x2="193.80" y2="380.50" stroke="#727272" stroke-width="0.9"/>
<line x1="192.10" y1="380.50" x2="195.50" y2="380.50" stroke="#727272" stroke-width="0.9"/>
<text x="207.46" y="444.30" font-size="7.2" text-anchor="start" fill="#333" style="stroke:#333;stroke-width:0.15px" transform="rotate(-90 207.46 444.30)">n.d</text>
<text x="212.56" y="444.30" font-size="7.2" text-anchor="start" fill="#333" style="stroke:#333;stroke-width:0.15px" transform="rotate(-90 212.56 444.30)">n.d</text>
<rect x="216.10" y="442.80" width="3.60" height="1.70" fill="#5a5a5a"/>
<rect x="222.05" y="409.30" width="5.70" height="35.20" fill="#000000"/>
<line x1="224.90" y1="409.30" x2="224.90" y2="395.70" stroke="#727272" stroke-width="0.9"/>
<line x1="223.20" y1="395.70" x2="226.60" y2="395.70" stroke="#727272" stroke-width="0.9"/>
<text x="238.86" y="444.30" font-size="7.2" text-anchor="start" fill="#333" style="stroke:#333;stroke-width:0.15px" transform="rotate(-90 238.86 444.30)">n.d</text>
<text x="244.36" y="444.30" font-size="7.2" text-anchor="start" fill="#333" style="stroke:#333;stroke-width:0.15px" transform="rotate(-90 244.36 444.30)">n.d</text>
<rect x="247.20" y="442.80" width="3.60" height="1.70" fill="#5a5a5a"/>
<rect x="253.15" y="410.60" width="5.70" height="33.90" fill="#000000"/>
<line x1="256.00" y1="410.60" x2="256.00" y2="401.60" stroke="#727272" stroke-width="0.9"/>
<line x1="254.30" y1="401.60" x2="257.70" y2="401.60" stroke="#727272" stroke-width="0.9"/>
<text x="101.20" y="431.34" font-size="19.0" text-anchor="middle" font-weight="bold" fill="#000" style="stroke:none">*</text>
<text x="132.20" y="424.44" font-size="19.0" text-anchor="middle" font-weight="bold" fill="#000" style="stroke:none">*</text>
<text x="161.60" y="367.34" font-size="19.0" text-anchor="middle" font-weight="bold" fill="#000" style="stroke:none">*</text>
<text x="192.80" y="385.04" font-size="19.0" text-anchor="middle" font-weight="bold" fill="#000" style="stroke:none">*</text>
<text x="224.40" y="399.74" font-size="19.0" text-anchor="middle" font-weight="bold" fill="#000" style="stroke:none">*</text>
<text x="255.00" y="405.24" font-size="19.0" text-anchor="middle" font-weight="bold" fill="#000" style="stroke:none">*</text>
<rect x="65.5" y="501.2" width="224.0" height="107.09999999999997" fill="none" stroke="#8a8a8a" stroke-width="1"/>
<line x1="63.00" y1="608.30" x2="65.50" y2="608.30" stroke="#8a8a8a" stroke-width="1"/>
<text x="59.00" y="608.80" font-size="10.5" text-anchor="end" dominant-baseline="central" font-weight="normal" fill="#111111">0</text>
<line x1="63.00" y1="586.88" x2="65.50" y2="586.88" stroke="#8a8a8a" stroke-width="1"/>
<text x="59.00" y="587.38" font-size="10.5" text-anchor="end" dominant-baseline="central" font-weight="normal" fill="#111111">200</text>
<line x1="63.00" y1="565.46" x2="65.50" y2="565.46" stroke="#8a8a8a" stroke-width="1"/>
<text x="59.00" y="565.96" font-size="10.5" text-anchor="end" dominant-baseline="central" font-weight="normal" fill="#111111">400</text>
<line x1="63.00" y1="544.04" x2="65.50" y2="544.04" stroke="#8a8a8a" stroke-width="1"/>
<text x="59.00" y="544.54" font-size="10.5" text-anchor="end" dominant-baseline="central" font-weight="normal" fill="#111111">600</text>
<line x1="63.00" y1="522.62" x2="65.50" y2="522.62" stroke="#8a8a8a" stroke-width="1"/>
<text x="59.00" y="523.12" font-size="10.5" text-anchor="end" dominant-baseline="central" font-weight="normal" fill="#111111">800</text>
<line x1="63.00" y1="501.20" x2="65.50" y2="501.20" stroke="#8a8a8a" stroke-width="1"/>
<text x="59.00" y="501.70" font-size="10.5" text-anchor="end" dominant-baseline="central" font-weight="normal" fill="#111111">1000</text>
<text x="89.90" y="618.80" font-size="10.0" text-anchor="middle" dominant-baseline="central" font-weight="normal" fill="#111111">3</text>
<text x="118.90" y="618.80" font-size="10.0" text-anchor="middle" dominant-baseline="central" font-weight="normal" fill="#111111">6</text>
<text x="149.00" y="618.80" font-size="10.0" text-anchor="middle" dominant-baseline="central" font-weight="normal" fill="#111111">9</text>
<text x="177.80" y="618.80" font-size="10.0" text-anchor="middle" dominant-baseline="central" font-weight="normal" fill="#111111">12</text>
<text x="207.80" y="618.80" font-size="10.0" text-anchor="middle" dominant-baseline="central" font-weight="normal" fill="#111111">16</text>
<text x="236.80" y="618.80" font-size="10.0" text-anchor="middle" dominant-baseline="central" font-weight="normal" fill="#111111">20</text>
<text x="265.80" y="618.80" font-size="10.0" text-anchor="middle" dominant-baseline="central" font-weight="normal" fill="#111111">24</text>
<text x="178.30" y="631.00" font-size="11.5" text-anchor="middle" dominant-baseline="central" font-weight="normal" fill="#111111">Hour Post Treatment</text>
<text x="27.00" y="557.70" font-size="11.1" text-anchor="middle" dominant-baseline="central" font-weight="normal" fill="#111111" transform="rotate(-90 27.0 557.7)">BM G-CSF (pg/mg)</text>
<text x="181.20" y="495.50" font-size="10.5" text-anchor="middle" dominant-baseline="central" font-weight="normal" fill="#111111">6Gy TBI</text>
<text x="1.66" y="505.50" font-size="15.5" font-weight="bold" fill="#000">F</text>
<text x="82.56" y="608.10" font-size="7.2" text-anchor="start" fill="#333" style="stroke:#333;stroke-width:0.15px" transform="rotate(-90 82.56 608.10)">n.d</text>
<text x="89.06" y="608.10" font-size="7.2" text-anchor="start" fill="#333" style="stroke:#333;stroke-width:0.15px" transform="rotate(-90 89.06 608.10)">n.d</text>
<rect x="90.45" y="570.70" width="5.20" height="37.60" fill="#6a6a6a"/>
<rect x="91.25" y="571.50" width="3.60" height="36.80" fill="#ffffff"/>
<line x1="93.05" y1="570.70" x2="93.05" y2="559.10" stroke="#727272" stroke-width="0.9"/>
<line x1="91.35" y1="559.10" x2="94.75" y2="559.10" stroke="#727272" stroke-width="0.9"/>
<rect x="96.55" y="535.90" width="5.20" height="72.40" fill="#000000"/>
<line x1="99.15" y1="535.90" x2="99.15" y2="526.70" stroke="#727272" stroke-width="0.9"/>
<line x1="97.45" y1="526.70" x2="100.85" y2="526.70" stroke="#727272" stroke-width="0.9"/>
<rect x="108.55" y="606.60" width="3.60" height="1.70" fill="#5a5a5a"/>
<text x="118.46" y="608.10" font-size="7.2" text-anchor="start" fill="#333" style="stroke:#333;stroke-width:0.15px" transform="rotate(-90 118.46 608.10)">n.d</text>
<rect x="119.95" y="579.20" width="5.20" height="29.10" fill="#6a6a6a"/>
<rect x="120.75" y="580.00" width="3.60" height="28.30" fill="#ffffff"/>
<line x1="122.55" y1="579.20" x2="122.55" y2="572.50" stroke="#727272" stroke-width="0.9"/>
<line x1="120.85" y1="572.50" x2="124.25" y2="572.50" stroke="#727272" stroke-width="0.9"/>
<rect x="126.05" y="530.00" width="5.20" height="78.30" fill="#000000"/>
<line x1="128.65" y1="530.00" x2="128.65" y2="524.50" stroke="#727272" stroke-width="0.9"/>
<line x1="126.95" y1="524.50" x2="130.35" y2="524.50" stroke="#727272" stroke-width="0.9"/>
<text x="139.56" y="608.10" font-size="7.2" text-anchor="start" fill="#333" style="stroke:#333;stroke-width:0.15px" transform="rotate(-90 139.56 608.10)">n.d</text>
<rect x="143.40" y="606.50" width="3.60" height="1.80" fill="#5a5a5a"/>
<rect x="148.70" y="592.50" width="5.20" height="15.80" fill="#6a6a6a"/>
<rect x="149.50" y="593.30" width="3.60" height="15.00" fill="#ffffff"/>
<line x1="151.30" y1="592.50" x2="151.30" y2="588.50" stroke="#727272" stroke-width="0.9"/>
<line x1="149.60" y1="588.50" x2="153.00" y2="588.50" stroke="#727272" stroke-width="0.9"/>
<rect x="154.80" y="550.00" width="5.20" height="58.30" fill="#000000"/>
<line x1="157.40" y1="550.00" x2="157.40" y2="529.40" stroke="#727272" stroke-width="0.9"/>
<line x1="155.70" y1="529.40" x2="159.10" y2="529.40" stroke="#727272" stroke-width="0.9"/>
<text x="170.36" y="608.10" font-size="7.2" text-anchor="start" fill="#333" style="stroke:#333;stroke-width:0.15px" transform="rotate(-90 170.36 608.10)">n.d</text>
<rect x="171.65" y="606.00" width="5.20" height="2.30" fill="#555555"/>
<rect x="172.45" y="606.80" width="3.60" height="1.50" fill="#b4b4b4"/>
<rect x="177.75" y="600.20" width="5.20" height="8.10" fill="#6a6a6a"/>
<rect x="178.55" y="601.00" width="3.60" height="7.30" fill="#ffffff"/>
<line x1="180.35" y1="600.20" x2="180.35" y2="596.20" stroke="#727272" stroke-width="0.9"/>
<line x1="178.65" y1="596.20" x2="182.05" y2="596.20" stroke="#727272" stroke-width="0.9"/>
<rect x="183.85" y="570.60" width="5.20" height="37.70" fill="#000000"/>
<line x1="186.45" y1="570.60" x2="186.45" y2="562.90" stroke="#727272" stroke-width="0.9"/>
<line x1="184.75" y1="562.90" x2="188.15" y2="562.90" stroke="#727272" stroke-width="0.9"/>
<rect x="194.80" y="606.00" width="5.20" height="2.30" fill="#3a3a3a"/>
<rect x="195.60" y="606.80" width="3.60" height="1.50" fill="#666666"/>
<line x1="197.40" y1="606.00" x2="197.40" y2="604.50" stroke="#727272" stroke-width="0.9"/>
<line x1="195.70" y1="604.50" x2="199.10" y2="604.50" stroke="#727272" stroke-width="0.9"/>
<rect x="200.90" y="602.30" width="5.20" height="6.00" fill="#555555"/>
<rect x="201.70" y="603.10" width="3.60" height="5.20" fill="#b4b4b4"/>
<line x1="203.50" y1="602.30" x2="203.50" y2="598.30" stroke="#727272" stroke-width="0.9"/>
<line x1="201.80" y1="598.30" x2="205.20" y2="598.30" stroke="#727272" stroke-width="0.9"/>
<rect x="207.00" y="592.20" width="5.20" height="16.10" fill="#6a6a6a"/>
<rect x="207.80" y="593.00" width="3.60" height="15.30" fill="#ffffff"/>
<line x1="209.60" y1="592.20" x2="209.60" y2="585.40" stroke="#727272" stroke-width="0.9"/>
<line x1="207.90" y1="585.40" x2="211.30" y2="585.40" stroke="#727272" stroke-width="0.9"/>
<rect x="213.10" y="563.20" width="5.20" height="45.10" fill="#000000"/>
<line x1="215.70" y1="563.20" x2="215.70" y2="558.30" stroke="#727272" stroke-width="0.9"/>
<line x1="214.00" y1="558.30" x2="217.40" y2="558.30" stroke="#727272" stroke-width="0.9"/>
<text x="228.16" y="608.10" font-size="7.2" text-anchor="start" fill="#333" style="stroke:#333;stroke-width:0.15px" transform="rotate(-90 228.16 608.10)">n.d</text>
<text x="234.46" y="608.10" font-size="7.2" text-anchor="start" fill="#333" style="stroke:#333;stroke-width:0.15px" transform="rotate(-90 234.46 608.10)">n.d</text>
<rect x="236.40" y="567.80" width="5.20" height="40.50" fill="#6a6a6a"/>
<rect x="237.20" y="568.60" width="3.60" height="39.70" fill="#ffffff"/>
<line x1="239.00" y1="567.80" x2="239.00" y2="564.80" stroke="#727272" stroke-width="0.9"/>
<line x1="237.30" y1="564.80" x2="240.70" y2="564.80" stroke="#727272" stroke-width="0.9"/>
<rect x="242.50" y="535.50" width="5.20" height="72.80" fill="#000000"/>
<line x1="245.10" y1="535.50" x2="245.10" y2="528.50" stroke="#727272" stroke-width="0.9"/>
<line x1="243.40" y1="528.50" x2="246.80" y2="528.50" stroke="#727272" stroke-width="0.9"/>
<rect x="253.45" y="606.60" width="3.60" height="1.70" fill="#5a5a5a"/>
<text x="263.96" y="608.10" font-size="7.2" text-anchor="start" fill="#333" style="stroke:#333;stroke-width:0.15px" transform="rotate(-90 263.96 608.10)">n.d</text>
<rect x="264.85" y="532.40" width="5.20" height="75.90" fill="#6a6a6a"/>
<rect x="265.65" y="533.20" width="3.60" height="75.10" fill="#ffffff"/>
<line x1="267.45" y1="532.40" x2="267.45" y2="528.40" stroke="#727272" stroke-width="0.9"/>
<line x1="265.75" y1="528.40" x2="269.15" y2="528.40" stroke="#727272" stroke-width="0.9"/>
<rect x="270.95" y="527.80" width="5.20" height="80.50" fill="#000000"/>
<line x1="273.55" y1="527.80" x2="273.55" y2="517.10" stroke="#727272" stroke-width="0.9"/>
<line x1="271.85" y1="517.10" x2="275.25" y2="517.10" stroke="#727272" stroke-width="0.9"/>
<text x="99.30" y="529.54" font-size="19.0" text-anchor="middle" font-weight="bold" fill="#000" style="stroke:none">*</text>
<text x="128.00" y="528.34" font-size="19.0" text-anchor="middle" font-weight="bold" fill="#000" style="stroke:none">*</text>
<text x="157.40" y="531.84" font-size="19.0" text-anchor="middle" font-weight="bold" fill="#000" style="stroke:none">*</text>
<text x="186.30" y="564.14" font-size="19.0" text-anchor="middle" font-weight="bold" fill="#000" style="stroke:none">*</text>
<text x="215.50" y="561.04" font-size="19.0" text-anchor="middle" font-weight="bold" fill="#000" style="stroke:none">*</text>
<text x="244.80" y="531.84" font-size="19.0" text-anchor="middle" font-weight="bold" fill="#000" style="stroke:none">*</text>
<rect x="361.5" y="338.9" width="151.0" height="105.40000000000003" fill="none" stroke="#8a8a8a" stroke-width="1"/>
<line x1="359.00" y1="444.30" x2="361.50" y2="444.30" stroke="#8a8a8a" stroke-width="1"/>
<text x="355.00" y="444.90" font-size="10.5" text-anchor="end" dominant-baseline="central" font-weight="normal" fill="#111111">0</text>
<line x1="359.00" y1="431.12" x2="361.50" y2="431.12" stroke="#8a8a8a" stroke-width="1"/>
<text x="355.00" y="431.73" font-size="10.5" text-anchor="end" dominant-baseline="central" font-weight="normal" fill="#111111">200</text>
<line x1="359.00" y1="417.95" x2="361.50" y2="417.95" stroke="#8a8a8a" stroke-width="1"/>
<text x="355.00" y="418.55" font-size="10.5" text-anchor="end" dominant-baseline="central" font-weight="normal" fill="#111111">400</text>
<line x1="359.00" y1="404.77" x2="361.50" y2="404.77" stroke="#8a8a8a" stroke-width="1"/>
<text x="355.00" y="405.38" font-size="10.5" text-anchor="end" dominant-baseline="central" font-weight="normal" fill="#111111">600</text>
<line x1="359.00" y1="391.60" x2="361.50" y2="391.60" stroke="#8a8a8a" stroke-width="1"/>
<text x="355.00" y="392.20" font-size="10.5" text-anchor="end" dominant-baseline="central" font-weight="normal" fill="#111111">800</text>
<line x1="359.00" y1="378.43" x2="361.50" y2="378.43" stroke="#8a8a8a" stroke-width="1"/>
<text x="355.00" y="379.03" font-size="10.5" text-anchor="end" dominant-baseline="central" font-weight="normal" fill="#111111">1000</text>
<line x1="359.00" y1="365.25" x2="361.50" y2="365.25" stroke="#8a8a8a" stroke-width="1"/>
<text x="355.00" y="365.85" font-size="10.5" text-anchor="end" dominant-baseline="central" font-weight="normal" fill="#111111">1200</text>
<line x1="359.00" y1="352.07" x2="361.50" y2="352.07" stroke="#8a8a8a" stroke-width="1"/>
<text x="355.00" y="352.68" font-size="10.5" text-anchor="end" dominant-baseline="central" font-weight="normal" fill="#111111">1400</text>
<line x1="359.00" y1="338.90" x2="361.50" y2="338.90" stroke="#8a8a8a" stroke-width="1"/>
<text x="355.00" y="339.50" font-size="10.5" text-anchor="end" dominant-baseline="central" font-weight="normal" fill="#111111">1600</text>
<text x="403.00" y="455.40" font-size="10.0" text-anchor="middle" dominant-baseline="central" font-weight="normal" fill="#111111">7</text>
<text x="471.30" y="455.40" font-size="10.0" text-anchor="middle" dominant-baseline="central" font-weight="normal" fill="#111111">14</text>
<text x="437.00" y="470.00" font-size="11.5" text-anchor="middle" dominant-baseline="central" font-weight="normal" fill="#111111">Day Post Treatment</text>
<text x="322.60" y="390.00" font-size="11.6" text-anchor="middle" dominant-baseline="central" font-weight="normal" fill="#111111" transform="rotate(-90 322.6 390)"># Ly6G<tspan baseline-shift="super" font-size="7">+</tspan> Cells/mm<tspan baseline-shift="super" font-size="7">3</tspan></text>
<text x="437.00" y="332.00" font-size="10.5" text-anchor="middle" dominant-baseline="central" font-weight="normal" fill="#111111">αG-CSF (hatched bars)</text>
<text x="300.66" y="341.80" font-size="15.5" font-weight="bold" fill="#000">G</text>
<rect x="376.00" y="360.70" width="7.00" height="83.60" fill="#444"/>
<rect x="376.90" y="361.60" width="5.20" height="82.70" fill="#666666"/>
<line x1="379.50" y1="360.70" x2="379.50" y2="356.40" stroke="#727272" stroke-width="0.9"/>
<line x1="377.85" y1="356.40" x2="381.15" y2="356.40" stroke="#727272" stroke-width="0.9"/>
<clipPath id="h1"><rect x="385.40" y="372.40" width="7.00" height="71.90"/></clipPath>
<rect x="385.40" y="372.40" width="7.00" height="71.90" fill="#666666"/>
<rect x="385.85" y="372.85" width="6.10" height="71.45" fill="none" stroke="#222" stroke-width="0.9"/>
<g clip-path="url(#h1)">
<line x1="384.40" y1="463.78" x2="393.40" y2="456.76" stroke="#111" stroke-width="1.4"/>
<line x1="384.40" y1="452.38" x2="393.40" y2="445.36" stroke="#111" stroke-width="1.4"/>
<line x1="384.40" y1="440.98" x2="393.40" y2="433.96" stroke="#111" stroke-width="1.4"/>
<line x1="384.40" y1="429.58" x2="393.40" y2="422.56" stroke="#111" stroke-width="1.4"/>
<line x1="384.40" y1="418.18" x2="393.40" y2="411.16" stroke="#111" stroke-width="1.4"/>
<line x1="384.40" y1="406.78" x2="393.40" y2="399.76" stroke="#111" stroke-width="1.4"/>
<line x1="384.40" y1="395.38" x2="393.40" y2="388.36" stroke="#111" stroke-width="1.4"/>
<line x1="384.40" y1="383.98" x2="393.40" y2="376.96" stroke="#111" stroke-width="1.4"/>
<line x1="384.40" y1="372.58" x2="393.40" y2="365.56" stroke="#111" stroke-width="1.4"/>
</g>
<line x1="388.90" y1="372.40" x2="388.90" y2="364.80" stroke="#727272" stroke-width="0.9"/>
<line x1="387.25" y1="364.80" x2="390.55" y2="364.80" stroke="#727272" stroke-width="0.9"/>
<rect x="394.40" y="421.70" width="7.00" height="22.60" fill="#777"/>
<rect x="395.30" y="422.60" width="5.20" height="21.70" fill="#ffffff"/>
<line x1="397.90" y1="421.70" x2="397.90" y2="418.50" stroke="#727272" stroke-width="0.9"/>
<line x1="396.25" y1="418.50" x2="399.55" y2="418.50" stroke="#727272" stroke-width="0.9"/>
<clipPath id="h2"><rect x="403.70" y="418.10" width="7.00" height="26.20"/></clipPath>
<rect x="403.70" y="418.10" width="7.00" height="26.20" fill="#fff"/>
<rect x="404.15" y="418.55" width="6.10" height="25.75" fill="none" stroke="#222" stroke-width="0.9"/>
<g clip-path="url(#h2)">
<line x1="402.70" y1="459.98" x2="411.70" y2="452.96" stroke="#111" stroke-width="1.4"/>
<line x1="402.70" y1="448.58" x2="411.70" y2="441.56" stroke="#111" stroke-width="1.4"/>
<line x1="402.70" y1="437.18" x2="411.70" y2="430.16" stroke="#111" stroke-width="1.4"/>
<line x1="402.70" y1="425.78" x2="411.70" y2="418.76" stroke="#111" stroke-width="1.4"/>
</g>
<line x1="407.20" y1="418.10" x2="407.20" y2="414.30" stroke="#727272" stroke-width="0.9"/>
<line x1="405.55" y1="414.30" x2="408.85" y2="414.30" stroke="#727272" stroke-width="0.9"/>
<rect x="413.10" y="386.50" width="7.00" height="57.80" fill="#000000"/>
<line x1="416.60" y1="386.50" x2="416.60" y2="381.20" stroke="#727272" stroke-width="0.9"/>
<line x1="414.95" y1="381.20" x2="418.25" y2="381.20" stroke="#727272" stroke-width="0.9"/>
<clipPath id="h3"><rect x="422.50" y="412.30" width="7.00" height="32.00"/></clipPath>
<rect x="422.50" y="412.30" width="7.00" height="32.00" fill="#000"/>
<rect x="422.95" y="412.75" width="6.10" height="31.55" fill="none" stroke="#000" stroke-width="0.9"/>
<g clip-path="url(#h3)">
<line x1="421.50" y1="455.48" x2="430.50" y2="448.46" stroke="#fff" stroke-width="1.4"/>
<line x1="421.50" y1="444.08" x2="430.50" y2="437.06" stroke="#fff" stroke-width="1.4"/>
<line x1="421.50" y1="432.68" x2="430.50" y2="425.66" stroke="#fff" stroke-width="1.4"/>
<line x1="421.50" y1="421.28" x2="430.50" y2="414.26" stroke="#fff" stroke-width="1.4"/>
</g>
<line x1="426.00" y1="412.30" x2="426.00" y2="408.70" stroke="#727272" stroke-width="0.9"/>
<line x1="424.35" y1="408.70" x2="427.65" y2="408.70" stroke="#727272" stroke-width="0.9"/>
<rect x="444.10" y="372.90" width="7.00" height="71.40" fill="#444"/>
<rect x="445.00" y="373.80" width="5.20" height="70.50" fill="#666666"/>
<line x1="447.60" y1="372.90" x2="447.60" y2="368.00" stroke="#727272" stroke-width="0.9"/>
<line x1="445.95" y1="368.00" x2="449.25" y2="368.00" stroke="#727272" stroke-width="0.9"/>
<clipPath id="h4"><rect x="453.50" y="376.10" width="7.00" height="68.20"/></clipPath>
<rect x="453.50" y="376.10" width="7.00" height="68.20" fill="#666666"/>
<rect x="453.95" y="376.55" width="6.10" height="67.75" fill="none" stroke="#222" stroke-width="0.9"/>
<g clip-path="url(#h4)">
<line x1="452.50" y1="453.58" x2="461.50" y2="446.56" stroke="#111" stroke-width="1.4"/>
<line x1="452.50" y1="442.18" x2="461.50" y2="435.16" stroke="#111" stroke-width="1.4"/>
<line x1="452.50" y1="430.78" x2="461.50" y2="423.76" stroke="#111" stroke-width="1.4"/>
<line x1="452.50" y1="419.38" x2="461.50" y2="412.36" stroke="#111" stroke-width="1.4"/>
<line x1="452.50" y1="407.98" x2="461.50" y2="400.96" stroke="#111" stroke-width="1.4"/>
<line x1="452.50" y1="396.58" x2="461.50" y2="389.56" stroke="#111" stroke-width="1.4"/>
<line x1="452.50" y1="385.18" x2="461.50" y2="378.16" stroke="#111" stroke-width="1.4"/>
</g>
<line x1="457.00" y1="376.10" x2="457.00" y2="366.70" stroke="#727272" stroke-width="0.9"/>
<line x1="455.35" y1="366.70" x2="458.65" y2="366.70" stroke="#727272" stroke-width="0.9"/>
<rect x="462.90" y="396.30" width="7.00" height="48.00" fill="#777"/>
<rect x="463.80" y="397.20" width="5.20" height="47.10" fill="#ffffff"/>
<line x1="466.40" y1="396.30" x2="466.40" y2="392.10" stroke="#727272" stroke-width="0.9"/>
<line x1="464.75" y1="392.10" x2="468.05" y2="392.10" stroke="#727272" stroke-width="0.9"/>
<clipPath id="h5"><rect x="471.80" y="402.10" width="7.00" height="42.20"/></clipPath>
<rect x="471.80" y="402.10" width="7.00" height="42.20" fill="#fff"/>
<rect x="472.25" y="402.55" width="6.10" height="41.75" fill="none" stroke="#222" stroke-width="0.9"/>
<g clip-path="url(#h5)">
<line x1="470.80" y1="459.08" x2="479.80" y2="452.06" stroke="#111" stroke-width="1.4"/>
<line x1="470.80" y1="447.68" x2="479.80" y2="440.66" stroke="#111" stroke-width="1.4"/>
<line x1="470.80" y1="436.28" x2="479.80" y2="429.26" stroke="#111" stroke-width="1.4"/>
<line x1="470.80" y1="424.88" x2="479.80" y2="417.86" stroke="#111" stroke-width="1.4"/>
<line x1="470.80" y1="413.48" x2="479.80" y2="406.46" stroke="#111" stroke-width="1.4"/>
<line x1="470.80" y1="402.08" x2="479.80" y2="395.06" stroke="#111" stroke-width="1.4"/>
</g>
<line x1="475.30" y1="402.10" x2="475.30" y2="399.30" stroke="#727272" stroke-width="0.9"/>
<line x1="473.65" y1="399.30" x2="476.95" y2="399.30" stroke="#727272" stroke-width="0.9"/>
<rect x="481.20" y="376.10" width="7.00" height="68.20" fill="#000000"/>
<line x1="484.70" y1="376.10" x2="484.70" y2="371.40" stroke="#727272" stroke-width="0.9"/>
<line x1="483.05" y1="371.40" x2="486.35" y2="371.40" stroke="#727272" stroke-width="0.9"/>
<clipPath id="h6"><rect x="490.60" y="395.90" width="7.00" height="48.40"/></clipPath>
<rect x="490.60" y="395.90" width="7.00" height="48.40" fill="#000"/>
<rect x="491.05" y="396.35" width="6.10" height="47.95" fill="none" stroke="#000" stroke-width="0.9"/>
<g clip-path="url(#h6)">
<line x1="489.60" y1="454.18" x2="498.60" y2="447.16" stroke="#fff" stroke-width="1.4"/>
<line x1="489.60" y1="442.78" x2="498.60" y2="435.76" stroke="#fff" stroke-width="1.4"/>
<line x1="489.60" y1="431.38" x2="498.60" y2="424.36" stroke="#fff" stroke-width="1.4"/>
<line x1="489.60" y1="419.98" x2="498.60" y2="412.96" stroke="#fff" stroke-width="1.4"/>
<line x1="489.60" y1="408.58" x2="498.60" y2="401.56" stroke="#fff" stroke-width="1.4"/>
<line x1="489.60" y1="397.18" x2="498.60" y2="390.16" stroke="#fff" stroke-width="1.4"/>
</g>
<line x1="494.10" y1="395.90" x2="494.10" y2="389.30" stroke="#727272" stroke-width="0.9"/>
<line x1="492.45" y1="389.30" x2="495.75" y2="389.30" stroke="#727272" stroke-width="0.9"/>
<text x="416.00" y="385.44" font-size="19.0" text-anchor="middle" font-weight="bold" fill="#000" style="stroke:none">*</text>
<text x="485.00" y="375.64" font-size="19.0" text-anchor="middle" font-weight="bold" fill="#000" style="stroke:none">*</text>
<rect x="424.15" y="395.90" width="1.9" height="9" fill="#000"/>
<rect x="422.35" y="397.10" width="5.5" height="1.8" fill="#000"/>
<rect x="492.55" y="379.00" width="1.9" height="9" fill="#000"/>
<rect x="490.75" y="380.20" width="5.5" height="1.8" fill="#000"/>
<rect x="361.5" y="501.4" width="151.0" height="106.10000000000002" fill="none" stroke="#8a8a8a" stroke-width="1"/>
<line x1="359.00" y1="607.50" x2="361.50" y2="607.50" stroke="#8a8a8a" stroke-width="1"/>
<text x="355.00" y="608.10" font-size="10.5" text-anchor="end" dominant-baseline="central" font-weight="normal" fill="#111111">0</text>
<line x1="359.00" y1="594.24" x2="361.50" y2="594.24" stroke="#8a8a8a" stroke-width="1"/>
<text x="355.00" y="594.84" font-size="10.5" text-anchor="end" dominant-baseline="central" font-weight="normal" fill="#111111">200</text>
<line x1="359.00" y1="580.98" x2="361.50" y2="580.98" stroke="#8a8a8a" stroke-width="1"/>
<text x="355.00" y="581.58" font-size="10.5" text-anchor="end" dominant-baseline="central" font-weight="normal" fill="#111111">400</text>
<line x1="359.00" y1="567.71" x2="361.50" y2="567.71" stroke="#8a8a8a" stroke-width="1"/>
<text x="355.00" y="568.31" font-size="10.5" text-anchor="end" dominant-baseline="central" font-weight="normal" fill="#111111">600</text>
<line x1="359.00" y1="554.45" x2="361.50" y2="554.45" stroke="#8a8a8a" stroke-width="1"/>
<text x="355.00" y="555.05" font-size="10.5" text-anchor="end" dominant-baseline="central" font-weight="normal" fill="#111111">800</text>
<line x1="359.00" y1="541.19" x2="361.50" y2="541.19" stroke="#8a8a8a" stroke-width="1"/>
<text x="355.00" y="541.79" font-size="10.5" text-anchor="end" dominant-baseline="central" font-weight="normal" fill="#111111">1000</text>
<line x1="359.00" y1="527.92" x2="361.50" y2="527.92" stroke="#8a8a8a" stroke-width="1"/>
<text x="355.00" y="528.52" font-size="10.5" text-anchor="end" dominant-baseline="central" font-weight="normal" fill="#111111">1200</text>
<line x1="359.00" y1="514.66" x2="361.50" y2="514.66" stroke="#8a8a8a" stroke-width="1"/>
<text x="355.00" y="515.26" font-size="10.5" text-anchor="end" dominant-baseline="central" font-weight="normal" fill="#111111">1400</text>
<line x1="359.00" y1="501.40" x2="361.50" y2="501.40" stroke="#8a8a8a" stroke-width="1"/>
<text x="355.00" y="502.00" font-size="10.5" text-anchor="end" dominant-baseline="central" font-weight="normal" fill="#111111">1600</text>
<text x="403.80" y="618.50" font-size="10.0" text-anchor="middle" dominant-baseline="central" font-weight="normal" fill="#111111">7</text>
<text x="472.40" y="618.50" font-size="10.0" text-anchor="middle" dominant-baseline="central" font-weight="normal" fill="#111111">14</text>
<text x="437.00" y="630.30" font-size="11.5" text-anchor="middle" dominant-baseline="central" font-weight="normal" fill="#111111">Day Post Treatment</text>
<text x="322.60" y="553.00" font-size="11.6" text-anchor="middle" dominant-baseline="central" font-weight="normal" fill="#111111" transform="rotate(-90 322.6 553)"># Ly6G<tspan baseline-shift="super" font-size="7">+</tspan> Cells/mm<tspan baseline-shift="super" font-size="7">3</tspan></text>
<text x="438.00" y="494.50" font-size="10.5" text-anchor="middle" dominant-baseline="central" font-weight="normal" fill="#111111">Isotype Control (hatched bars)</text>
<text x="299.66" y="505.60" font-size="15.5" font-weight="bold" fill="#000">H</text>
<rect x="376.30" y="523.00" width="6.90" height="84.50" fill="#444"/>
<rect x="377.20" y="523.90" width="5.10" height="83.60" fill="#666666"/>
<line x1="379.75" y1="523.00" x2="379.75" y2="518.50" stroke="#727272" stroke-width="0.9"/>
<line x1="378.10" y1="518.50" x2="381.40" y2="518.50" stroke="#727272" stroke-width="0.9"/>
<clipPath id="h7"><rect x="385.40" y="530.10" width="6.90" height="77.40"/></clipPath>
<rect x="385.40" y="530.10" width="6.90" height="77.40" fill="#666666"/>
<rect x="385.85" y="530.55" width="6.00" height="76.95" fill="none" stroke="#222" stroke-width="0.9"/>
<g clip-path="url(#h7)">
<line x1="384.40" y1="616.58" x2="393.30" y2="609.64" stroke="#2a2a2a" stroke-width="1.0"/>
<line x1="384.40" y1="605.18" x2="393.30" y2="598.24" stroke="#2a2a2a" stroke-width="1.0"/>
<line x1="384.40" y1="593.78" x2="393.30" y2="586.84" stroke="#2a2a2a" stroke-width="1.0"/>
<line x1="384.40" y1="582.38" x2="393.30" y2="575.44" stroke="#2a2a2a" stroke-width="1.0"/>
<line x1="384.40" y1="570.98" x2="393.30" y2="564.04" stroke="#2a2a2a" stroke-width="1.0"/>
<line x1="384.40" y1="559.58" x2="393.30" y2="552.64" stroke="#2a2a2a" stroke-width="1.0"/>
<line x1="384.40" y1="548.18" x2="393.30" y2="541.24" stroke="#2a2a2a" stroke-width="1.0"/>
<line x1="384.40" y1="536.78" x2="393.30" y2="529.84" stroke="#2a2a2a" stroke-width="1.0"/>
</g>
<line x1="388.85" y1="530.10" x2="388.85" y2="522.20" stroke="#727272" stroke-width="0.9"/>
<line x1="387.20" y1="522.20" x2="390.50" y2="522.20" stroke="#727272" stroke-width="0.9"/>
<rect x="394.60" y="584.30" width="6.90" height="23.20" fill="#777"/>
<rect x="395.50" y="585.20" width="5.10" height="22.30" fill="#ffffff"/>
<line x1="398.05" y1="584.30" x2="398.05" y2="581.60" stroke="#727272" stroke-width="0.9"/>
<line x1="396.40" y1="581.60" x2="399.70" y2="581.60" stroke="#727272" stroke-width="0.9"/>
<clipPath id="h8"><rect x="404.40" y="575.10" width="6.90" height="32.40"/></clipPath>
<rect x="404.40" y="575.10" width="6.90" height="32.40" fill="#fff"/>
<rect x="404.85" y="575.55" width="6.00" height="31.95" fill="none" stroke="#222" stroke-width="0.9"/>
<g clip-path="url(#h8)">
<line x1="403.40" y1="624.18" x2="412.30" y2="617.24" stroke="#555" stroke-width="0.9"/>
<line x1="403.40" y1="612.78" x2="412.30" y2="605.84" stroke="#555" stroke-width="0.9"/>
<line x1="403.40" y1="601.38" x2="412.30" y2="594.44" stroke="#555" stroke-width="0.9"/>
<line x1="403.40" y1="589.98" x2="412.30" y2="583.04" stroke="#555" stroke-width="0.9"/>
<line x1="403.40" y1="578.58" x2="412.30" y2="571.64" stroke="#555" stroke-width="0.9"/>
</g>
<line x1="407.85" y1="575.10" x2="407.85" y2="565.30" stroke="#727272" stroke-width="0.9"/>
<line x1="406.20" y1="565.30" x2="409.50" y2="565.30" stroke="#727272" stroke-width="0.9"/>
<rect x="413.30" y="549.00" width="6.90" height="58.50" fill="#000000"/>
<line x1="416.75" y1="549.00" x2="416.75" y2="543.90" stroke="#727272" stroke-width="0.9"/>
<line x1="415.10" y1="543.90" x2="418.40" y2="543.90" stroke="#727272" stroke-width="0.9"/>
<clipPath id="h9"><rect x="423.10" y="556.20" width="6.90" height="51.30"/></clipPath>
<rect x="423.10" y="556.20" width="6.90" height="51.30" fill="#000"/>
<rect x="423.55" y="556.65" width="6.00" height="50.85" fill="none" stroke="#000" stroke-width="0.9"/>
<g clip-path="url(#h9)">
<line x1="422.10" y1="619.78" x2="431.00" y2="612.84" stroke="#fff" stroke-width="1.3"/>
<line x1="422.10" y1="608.38" x2="431.00" y2="601.44" stroke="#fff" stroke-width="1.3"/>
<line x1="422.10" y1="596.98" x2="431.00" y2="590.04" stroke="#fff" stroke-width="1.3"/>
<line x1="422.10" y1="585.58" x2="431.00" y2="578.64" stroke="#fff" stroke-width="1.3"/>
<line x1="422.10" y1="574.18" x2="431.00" y2="567.24" stroke="#fff" stroke-width="1.3"/>
<line x1="422.10" y1="562.78" x2="431.00" y2="555.84" stroke="#fff" stroke-width="1.3"/>
</g>
<line x1="426.55" y1="556.20" x2="426.55" y2="551.10" stroke="#727272" stroke-width="0.9"/>
<line x1="424.90" y1="551.10" x2="428.20" y2="551.10" stroke="#727272" stroke-width="0.9"/>
<rect x="445.10" y="535.20" width="6.90" height="72.30" fill="#444"/>
<rect x="446.00" y="536.10" width="5.10" height="71.40" fill="#666666"/>
<line x1="448.55" y1="535.20" x2="448.55" y2="530.60" stroke="#727272" stroke-width="0.9"/>
<line x1="446.90" y1="530.60" x2="450.20" y2="530.60" stroke="#727272" stroke-width="0.9"/>
<clipPath id="h10"><rect x="454.40" y="522.00" width="6.90" height="85.50"/></clipPath>
<rect x="454.40" y="522.00" width="6.90" height="85.50" fill="#666666"/>
<rect x="454.85" y="522.45" width="6.00" height="85.05" fill="none" stroke="#222" stroke-width="0.9"/>
<g clip-path="url(#h10)">
<line x1="453.40" y1="617.28" x2="462.30" y2="610.34" stroke="#2a2a2a" stroke-width="1.0"/>
<line x1="453.40" y1="605.88" x2="462.30" y2="598.94" stroke="#2a2a2a" stroke-width="1.0"/>
<line x1="453.40" y1="594.48" x2="462.30" y2="587.54" stroke="#2a2a2a" stroke-width="1.0"/>
<line x1="453.40" y1="583.08" x2="462.30" y2="576.14" stroke="#2a2a2a" stroke-width="1.0"/>
<line x1="453.40" y1="571.68" x2="462.30" y2="564.74" stroke="#2a2a2a" stroke-width="1.0"/>
<line x1="453.40" y1="560.28" x2="462.30" y2="553.34" stroke="#2a2a2a" stroke-width="1.0"/>
<line x1="453.40" y1="548.88" x2="462.30" y2="541.94" stroke="#2a2a2a" stroke-width="1.0"/>
<line x1="453.40" y1="537.48" x2="462.30" y2="530.54" stroke="#2a2a2a" stroke-width="1.0"/>
<line x1="453.40" y1="526.08" x2="462.30" y2="519.14" stroke="#2a2a2a" stroke-width="1.0"/>
</g>
<line x1="457.85" y1="522.00" x2="457.85" y2="512.00" stroke="#727272" stroke-width="0.9"/>
<line x1="456.20" y1="512.00" x2="459.50" y2="512.00" stroke="#727272" stroke-width="0.9"/>
<rect x="463.60" y="542.90" width="6.90" height="64.60" fill="#777"/>
<rect x="464.50" y="543.80" width="5.10" height="63.70" fill="#ffffff"/>
<line x1="467.05" y1="542.90" x2="467.05" y2="538.70" stroke="#727272" stroke-width="0.9"/>
<line x1="465.40" y1="538.70" x2="468.70" y2="538.70" stroke="#727272" stroke-width="0.9"/>
<clipPath id="h11"><rect x="472.90" y="539.90" width="6.90" height="67.60"/></clipPath>
<rect x="472.90" y="539.90" width="6.90" height="67.60" fill="#fff"/>
<rect x="473.35" y="540.35" width="6.00" height="67.15" fill="none" stroke="#222" stroke-width="0.9"/>
<g clip-path="url(#h11)">
<line x1="471.90" y1="624.98" x2="480.80" y2="618.04" stroke="#555" stroke-width="0.9"/>
<line x1="471.90" y1="613.58" x2="480.80" y2="606.64" stroke="#555" stroke-width="0.9"/>
<line x1="471.90" y1="602.18" x2="480.80" y2="595.24" stroke="#555" stroke-width="0.9"/>
<line x1="471.90" y1="590.78" x2="480.80" y2="583.84" stroke="#555" stroke-width="0.9"/>
<line x1="471.90" y1="579.38" x2="480.80" y2="572.44" stroke="#555" stroke-width="0.9"/>
<line x1="471.90" y1="567.98" x2="480.80" y2="561.04" stroke="#555" stroke-width="0.9"/>
<line x1="471.90" y1="556.58" x2="480.80" y2="549.64" stroke="#555" stroke-width="0.9"/>
<line x1="471.90" y1="545.18" x2="480.80" y2="538.24" stroke="#555" stroke-width="0.9"/>
</g>
<line x1="476.35" y1="539.90" x2="476.35" y2="532.20" stroke="#727272" stroke-width="0.9"/>
<line x1="474.70" y1="532.20" x2="478.00" y2="532.20" stroke="#727272" stroke-width="0.9"/>
<rect x="482.20" y="532.90" width="6.90" height="74.60" fill="#000000"/>
<line x1="485.65" y1="532.90" x2="485.65" y2="528.30" stroke="#727272" stroke-width="0.9"/>
<line x1="484.00" y1="528.30" x2="487.30" y2="528.30" stroke="#727272" stroke-width="0.9"/>
<clipPath id="h12"><rect x="491.50" y="523.60" width="6.90" height="83.90"/></clipPath>
<rect x="491.50" y="523.60" width="6.90" height="83.90" fill="#000"/>
<rect x="491.95" y="524.05" width="6.00" height="83.45" fill="none" stroke="#000" stroke-width="0.9"/>
<g clip-path="url(#h12)">
<line x1="490.50" y1="621.48" x2="499.40" y2="614.54" stroke="#fff" stroke-width="1.3"/>
<line x1="490.50" y1="610.08" x2="499.40" y2="603.14" stroke="#fff" stroke-width="1.3"/>
<line x1="490.50" y1="598.68" x2="499.40" y2="591.74" stroke="#fff" stroke-width="1.3"/>
<line x1="490.50" y1="587.28" x2="499.40" y2="580.34" stroke="#fff" stroke-width="1.3"/>
<line x1="490.50" y1="575.88" x2="499.40" y2="568.94" stroke="#fff" stroke-width="1.3"/>
<line x1="490.50" y1="564.48" x2="499.40" y2="557.54" stroke="#fff" stroke-width="1.3"/>
<line x1="490.50" y1="553.08" x2="499.40" y2="546.14" stroke="#fff" stroke-width="1.3"/>
<line x1="490.50" y1="541.68" x2="499.40" y2="534.74" stroke="#fff" stroke-width="1.3"/>
<line x1="490.50" y1="530.28" x2="499.40" y2="523.34" stroke="#fff" stroke-width="1.3"/>
</g>
<line x1="494.95" y1="523.60" x2="494.95" y2="516.70" stroke="#727272" stroke-width="0.9"/>
<line x1="493.30" y1="516.70" x2="496.60" y2="516.70" stroke="#727272" stroke-width="0.9"/>
<text x="417.00" y="548.44" font-size="19.0" text-anchor="middle" font-weight="bold" fill="#000" style="stroke:none">*</text>
<rect x="438" y="27.20" width="24" height="3.6" rx="0.7" fill="#666666" stroke="#3a3a3a" stroke-width="0.9"/>
<text x="467.50" y="29.00" font-size="10.5" text-anchor="start" dominant-baseline="central" font-weight="normal" fill="#111111">NT</text>
<rect x="438" y="40.30" width="24" height="3.6" rx="0.7" fill="#b4b4b4" stroke="#555555" stroke-width="0.9"/>
<text x="467.50" y="42.10" font-size="10.5" text-anchor="start" dominant-baseline="central" font-weight="normal" fill="#111111">Heat</text>
<rect x="438" y="53.20" width="24" height="3.6" rx="0.7" fill="#ffffff" stroke="#6a6a6a" stroke-width="0.9"/>
<text x="467.50" y="55.00" font-size="10.5" text-anchor="start" dominant-baseline="central" font-weight="normal" fill="#111111">TBI</text>
<rect x="438" y="65.90" width="24" height="3.6" rx="0.7" fill="#000000" stroke="#000000" stroke-width="0.9"/>
<text x="467.50" y="67.70" font-size="10.5" text-anchor="start" dominant-baseline="central" font-weight="normal" fill="#111111">TBI + Heat</text>
</svg>
</body></html>
